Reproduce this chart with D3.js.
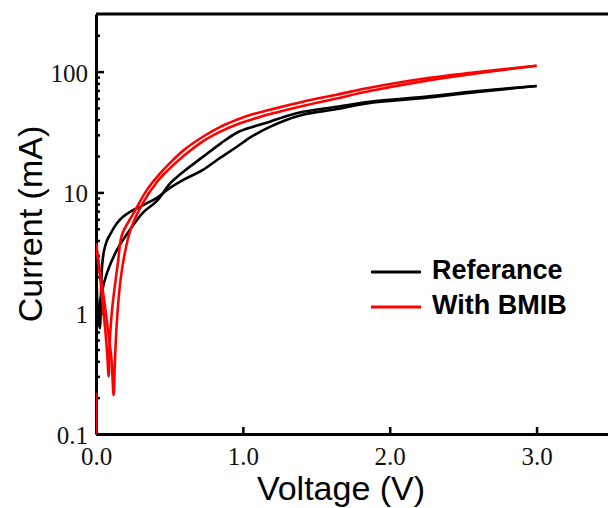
<!DOCTYPE html>
<html>
<head>
<meta charset="utf-8">
<script src="https://cdn.jsdelivr.net/npm/d3@7"></script>
<style>
body { margin: 0; background: #fff; }
</style>
</head>
<body>
<svg id="chart"></svg>
<script>
// Referance (black) - forward and reverse sweeps
var refFwdV = [0.003, 0.01, 0.02, 0.027, 0.031, 0.035, 0.042, 0.055, 0.075, 0.095, 0.14, 0.184, 0.24, 0.30, 0.36, 0.415, 0.503, 0.6, 0.728, 0.85, 0.959, 1.07, 1.184, 1.3, 1.408, 1.639, 1.864, 2.27, 2.6, 3.0];
var refFwdI = [2.0, 1.2, 0.85, 0.75, 0.95, 1.6, 2.5, 3.3, 4.0, 4.46, 5.5, 6.28, 7.0, 7.6, 8.3, 9.0, 10.9, 12.8, 15.4, 19.5, 23.9, 29.5, 34.9, 40, 44, 49, 55, 61, 68, 76];
var refRevV = [3.0, 2.6, 2.27, 1.864, 1.639, 1.408, 1.3, 1.184, 1.07, 0.959, 0.85, 0.728, 0.6, 0.503, 0.415, 0.32, 0.231, 0.143, 0.075, 0.04, 0.02, 0.008];
var refRevI = [76, 69, 62.5, 56.4, 51.2, 46.5, 43, 38.5, 35, 31.2, 25.5, 19.7, 15.0, 11.8, 8.5, 6.8, 4.9, 3.34, 2.16, 1.5, 1.05, 0.85];

// With BMIB (red)
var bmibStartV = [0, 0];
var bmibStartI = [0.05, 0.22];
var bmibFwdV = [0, 0.01, 0.03, 0.05, 0.063, 0.076, 0.086, 0.094, 0.109, 0.129, 0.15, 0.177, 0.252, 0.347, 0.435, 0.503, 0.6, 0.728, 0.85, 0.959, 1.07, 1.184, 1.408, 1.639, 1.864, 2.272, 2.6, 3.0];
var bmibFwdI = [3.8, 3.0, 1.9, 1.05, 0.73, 0.47, 0.30, 0.60, 1.06, 1.71, 2.66, 4.46, 6.6, 10.5, 14.3, 17.5, 22.5, 28.9, 35, 39.9, 44.5, 48.3, 56.4, 64.4, 73.6, 89, 99, 112];
var bmibRevV = [3.0, 2.6, 2.272, 1.864, 1.639, 1.408, 1.184, 1.07, 0.959, 0.85, 0.728, 0.6, 0.483, 0.415, 0.32, 0.235, 0.19, 0.163, 0.143, 0.129, 0.12, 0.105, 0.08, 0.055, 0.03, 0.01, 0.0];
var bmibRevI = [112, 97, 85, 69, 60, 52, 44.5, 40.5, 36.5, 32, 26.5, 20.2, 15.0, 12.2, 8.2, 4.9, 2.87, 1.71, 0.88, 0.41, 0.21, 0.42, 0.75, 1.3, 2.1, 3.1, 3.8];

var xTicks = [0, 1, 2, 3];
var yTicks = [0.1, 1, 10, 100];
var yMinorTicks = [0.2, 0.3, 0.4, 0.5, 0.6, 0.7, 0.8, 0.9, 2, 3, 4, 5, 6, 7, 8, 9, 20, 30, 40, 50, 60, 70, 80, 90, 200];
var legendNames = ["Referance", "With BMIB"];
var legendColors = ["#000000", "#ff0000"];

function zipPoints(vs, is) {
    return vs.map(function (v, i) { return [v, is[i]]; });
}

function drawChart() {
    var totalWidth = 608;
    var totalHeight = 508;
    var margin = { top: 14, left: 96, bottom: 74, right: -2 };
    var width = totalWidth - margin.left - margin.right;
    var height = totalHeight - margin.top - margin.bottom;

    var svg = d3.select("#chart")
        .attr("width", totalWidth)
        .attr("height", totalHeight);

    var x = d3.scaleLinear().domain([0, 3.5]).range([0, width]);
    var y = d3.scaleLog().domain([0.1, 300]).range([height, 0]);

    var g = svg.append("g")
        .attr("transform", "translate(" + margin.left + "," + margin.top + ")");

    svg.append("defs").append("clipPath")
        .attr("id", "plotClip")
        .append("rect")
        .attr("x", 0).attr("y", 0)
        .attr("width", width).attr("height", height);

    // axes
    var serif = "'Liberation Serif', 'Times New Roman', serif";

    var yAxis = g.append("g")
        .call(d3.axisLeft(y).tickValues(yTicks).tickSizeInner(-8).tickSizeOuter(0).tickPadding(8)
            .tickFormat(function (d) { return d < 1 ? "0.1" : d3.format("d")(d); }));
    yAxis.selectAll("text").attr("font-family", serif).attr("font-size", 25).attr("fill", "#111").attr("dy", "0.38em");

    var yMinor = g.append("g")
        .call(d3.axisLeft(y).tickValues(yMinorTicks).tickSizeInner(-4).tickSizeOuter(0).tickFormat(""));
    yMinor.select(".domain").remove();

    var xAxis = g.append("g")
        .attr("transform", "translate(0," + height + ")")
        .call(d3.axisBottom(x).tickValues(xTicks).tickSizeInner(-7).tickSizeOuter(0).tickPadding(13)
            .tickFormat(d3.format(".1f")));
    xAxis.selectAll("text").attr("font-family", serif).attr("font-size", 25).attr("fill", "#111");

    g.selectAll(".domain").attr("stroke", "#000").attr("stroke-width", 3);
    g.selectAll(".tick line").attr("stroke", "#000").attr("stroke-width", 2.5);

    g.append("line")
        .attr("x1", 0).attr("x2", width)
        .attr("y1", 0).attr("y2", 0)
        .attr("stroke", "#000").attr("stroke-width", 3);

    // curves
    var line = d3.line()
        .x(function (d) { return x(d[0]); })
        .y(function (d) { return y(d[1]); })
        .curve(d3.curveCatmullRom.alpha(0.5));

    var plot = g.append("g").attr("clip-path", "url(#plotClip)");

    var series = [
        { pts: zipPoints(refFwdV, refFwdI), color: legendColors[0] },
        { pts: zipPoints(refRevV, refRevI), color: legendColors[0] },
        { pts: zipPoints(bmibStartV, bmibStartI), color: legendColors[1] },
        { pts: zipPoints(bmibFwdV, bmibFwdI), color: legendColors[1] },
        { pts: zipPoints(bmibRevV, bmibRevI), color: legendColors[1] }
    ];

    plot.selectAll(".curve")
        .data(series)
        .enter()
        .append("path")
        .attr("class", "curve")
        .attr("d", function (d) { return line(d.pts); })
        .attr("fill", "none")
        .attr("stroke", function (d) { return d.color; })
        .attr("stroke-width", 2.6)
        .attr("stroke-linejoin", "round");

    // axis titles
    svg.append("text")
        .attr("x", 341)
        .attr("y", 500)
        .attr("text-anchor", "middle")
        .attr("font-family", "'Liberation Sans', Arial, sans-serif")
        .attr("font-size", 34)
        .text("Voltage (V)");

    svg.append("text")
        .attr("transform", "translate(42,224) rotate(-90)")
        .attr("text-anchor", "middle")
        .attr("font-family", "'Liberation Sans', Arial, sans-serif")
        .attr("font-size", 34)
        .text("Current (mA)");

    // legend
    var legend = svg.append("g").attr("transform", "translate(371,272)");
    var items = legend.selectAll(".item")
        .data(legendNames)
        .enter()
        .append("g")
        .attr("class", "item")
        .attr("transform", function (d, i) { return "translate(0," + i * 35 + ")"; });

    items.append("line")
        .attr("x1", 0).attr("x2", 50)
        .attr("stroke", function (d, i) { return legendColors[i]; })
        .attr("stroke-width", 3);

    items.append("text")
        .attr("x", 61)
        .attr("y", 7)
        .attr("font-family", "'Liberation Sans', Arial, sans-serif")
        .attr("font-weight", "bold")
        .attr("font-size", 27)
        .text(function (d) { return d; });
}

drawChart();
</script>
</body>
</html>
